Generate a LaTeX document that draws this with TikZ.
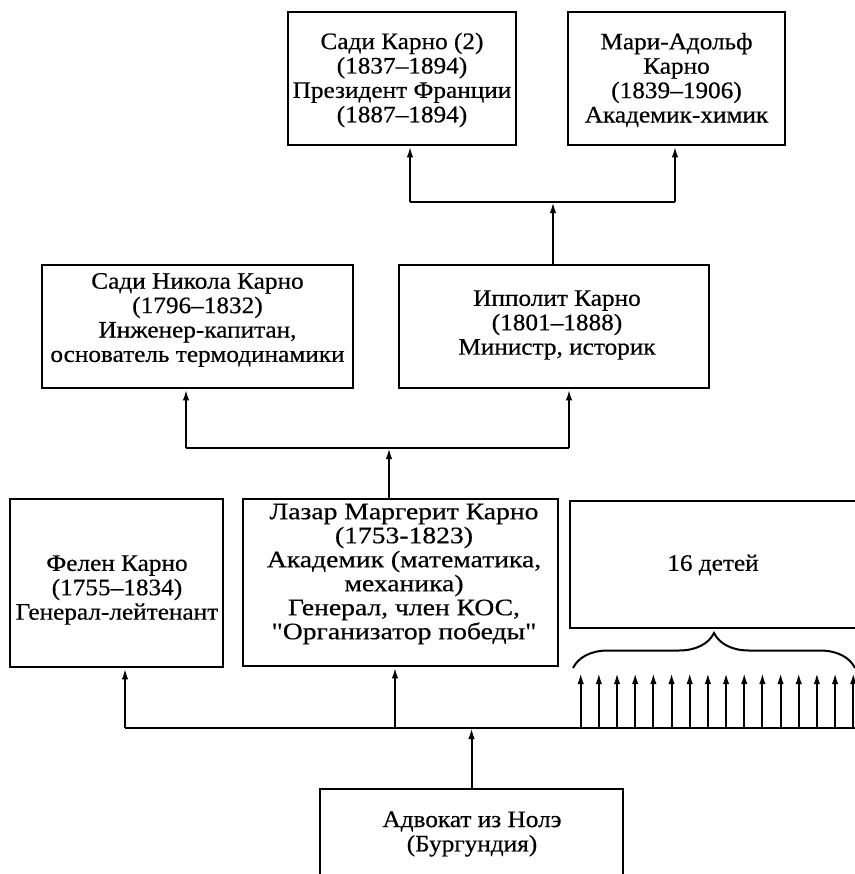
\documentclass[tikz,border=0pt]{standalone}
\usepackage{fontspec}
\setmainfont{Liberation Serif}[FakeStretch=1.07, FakeBold=0.5, Ligatures=TeXOff]
\newfontfamily\widefont{Liberation Serif}[FakeStretch=1.17, FakeBold=0.5, Ligatures=TeXOff]
\usetikzlibrary{arrows.meta,decorations.pathreplacing}
\begin{document}
\begin{tikzpicture}[x=0.5pt,y=-0.5pt,
  box/.style={draw, line width=1.4pt, inner sep=0pt, rectangle},
  txt/.style={align=center, inner sep=0pt, font=\fontsize{11.8}{12.2}\selectfont},
  widetxt/.style={align=center, inner sep=0pt, font=\widefont\fontsize{11.8}{12}\selectfont},
  con/.style={line width=1pt},
  arr/.style={con, -{Latex[length=5.5pt,width=3.2pt]}},
  brc/.style={line width=1pt, decorate, decoration={brace, amplitude=17.5pt}}
]
\useasboundingbox (0,0) rectangle (855,874);
\fill[white] (0,0) rectangle (855,874);
\clip (0,0) rectangle (855,874);

% top row
\node[box, minimum width=114pt, minimum height=66.5pt] (A) at (402,78.5) {};
\node[txt] (At) at (402,80) {Сади Карно (2)\\(1837–1894)\\Президент Франции\\(1887–1894)};
\node[box, minimum width=108.5pt, minimum height=66.5pt] (B) at (676.5,78.5) {};
\node[txt] (Bt) at (676.5,80) {Мари-Адольф\\Карно\\(1839–1906)\\Академик-химик};

% second row
\node[box, minimum width=155.5pt, minimum height=61.5pt] (C) at (197.5,326.5) {};
\node[txt] (Ct) at (197.5,320) {Сади Никола Карно\\(1796–1832)\\Инженер-капитан,\\основатель термодинамики};
\node[box, minimum width=155pt, minimum height=61.5pt] (D) at (554,326.5) {};
\node[txt] (Dt) at (557,325) {Ипполит Карно\\(1801–1888)\\Министр, историк};

% third row
\node[box, minimum width=106.5pt, minimum height=84pt] (E) at (116.5,583) {};
\node[txt] (Et) at (117,590) {Фелен Карно\\(1755–1834)\\Генерал-лейтенант};
\node[box, minimum width=157.5pt, minimum height=83.5pt] (F) at (400.5,582.5) {};
\node[widetxt] (Ft) at (404,574) {Лазар Маргерит Карно\\(1753-1823)\\Академик (математика,\\механика)\\Генерал, член КОС,\\"Организатор победы"};
\node[box, minimum width=144pt, minimum height=63.5pt] (G) at (714,564.5) {};
\node[txt] (Gt) at (713,565) {16 детей};

% bottom
\node[box, minimum width=151.5pt, minimum height=65.5pt] (H) at (471.5,854.5) {};
\node[txt] (Ht) at (472,834) {Адвокат из Нолэ\\(Бургундия)};

% connectors level 3
\coordinate (b3L) at (410,202);
\coordinate (b3R) at (675,202);
\draw[con] (b3L) -- (b3R);
\draw[arr] (b3L) -- (b3L |- A.south);
\draw[arr] (b3R) -- (b3R |- B.south);
\coordinate (l3) at (553,202);
\draw[arr] (l3 |- D.north) -- (l3);

% connectors level 2
\coordinate (b2L) at (186,448);
\coordinate (b2R) at (569,448);
\draw[con] (b2L) -- (b2R);
\draw[arr] (b2L) -- (b2L |- C.south);
\draw[arr] (b2R) -- (b2R |- D.south);
\coordinate (l2) at (389,448);
\draw[arr] (l2 |- F.north) -- (l2);

% connectors level 1
\coordinate (b1L) at (125,728);
\coordinate (b1R) at (860,728);
\draw[con] (b1L) -- (b1R);
\draw[arr] (b1L) -- (b1L |- E.south);
\coordinate (f1) at (395,728);
\draw[arr] (f1) -- (f1 |- F.south);
\coordinate (h1) at (471.5,728);
\draw[arr] (H.north) -- (h1);

% sixteen children arrows
\foreach \i in {0,...,15} {
  \pgfmathsetmacro\xx{580.7+18.17*\i}
  \coordinate (s\i) at (\xx,728);
  \coordinate (t\i) at (\xx,673);
  \draw[arr] (s\i) -- (t\i);
}

% brace
\coordinate (brL) at (573,668);
\coordinate (brR) at (855,668);
\draw[brc] (brL) -- (brR);
\end{tikzpicture}
\end{document}
